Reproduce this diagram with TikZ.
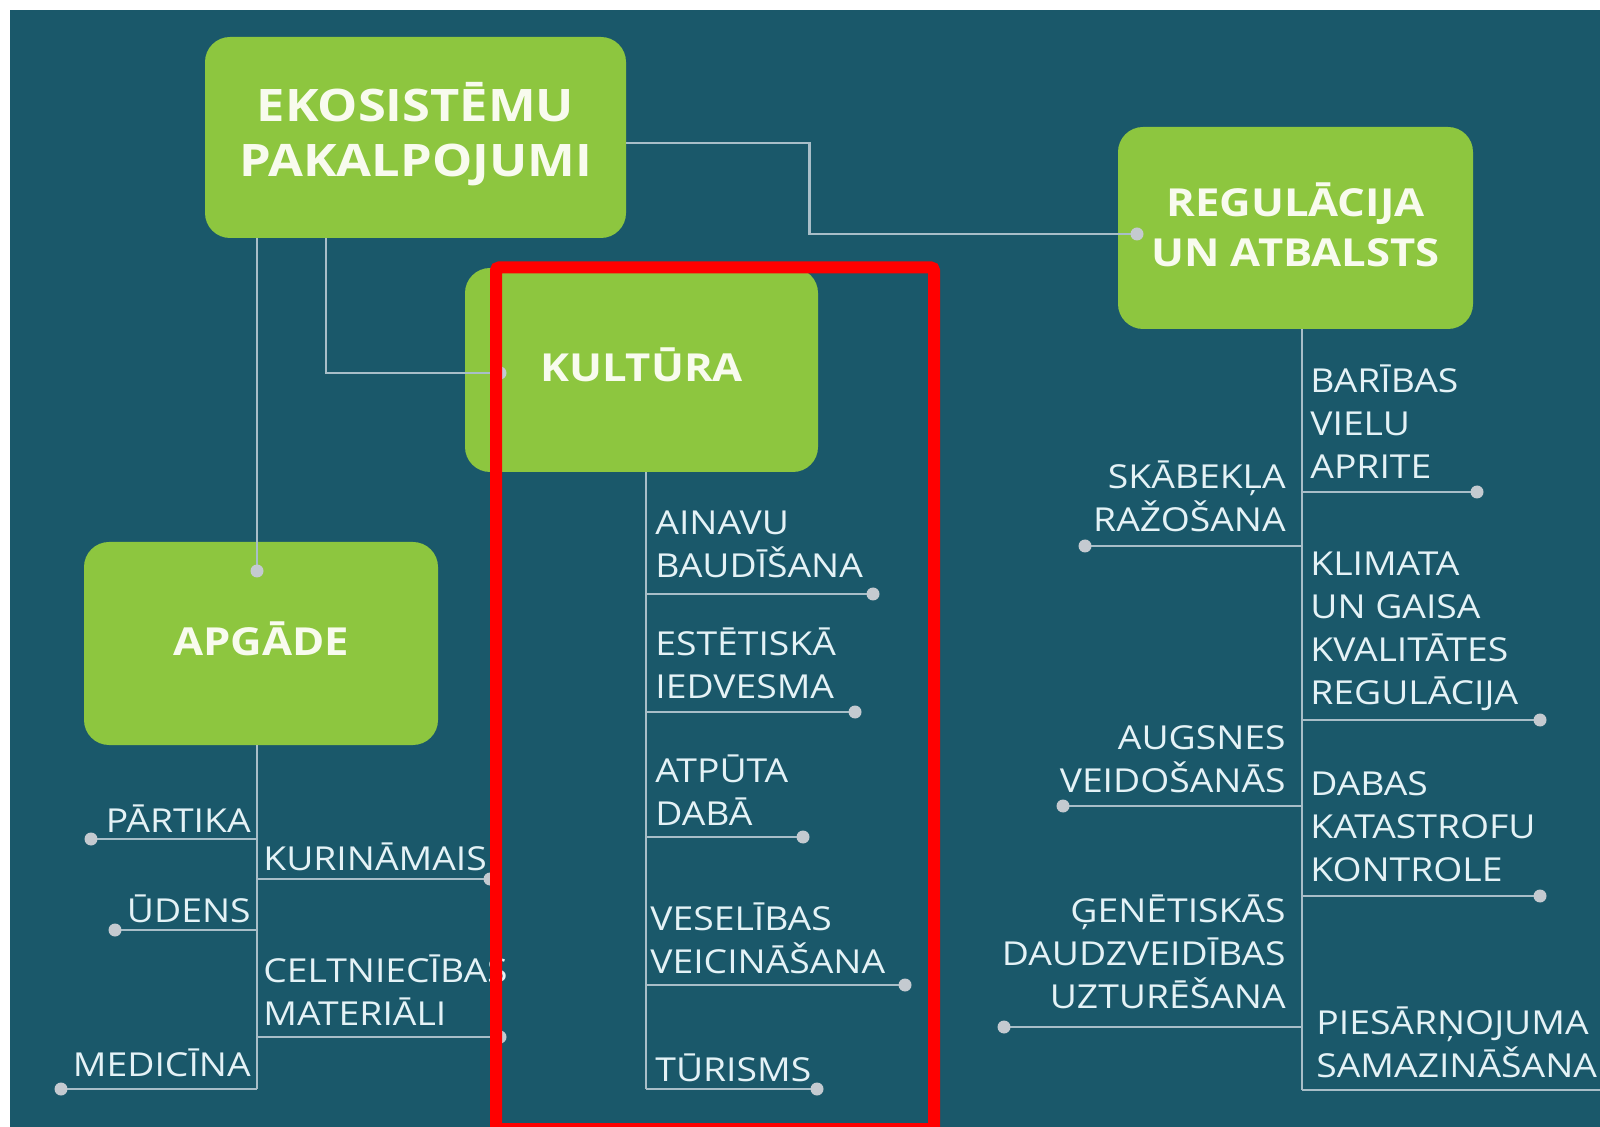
\documentclass[tikz,border=0pt]{standalone}
\usepackage{fontspec}
\setmainfont{Open Sans}[FakeStretch=1.13]
\usetikzlibrary{calc}

\definecolor{bgteal}{RGB}{26,88,106}
\definecolor{leaf}{RGB}{141,198,63}
\definecolor{wire}{RGB}{168,190,200}
\definecolor{dotgrey}{RGB}{196,202,208}
\definecolor{ink}{RGB}{228,242,246}
\definecolor{boxink}{RGB}{248,251,238}

\tikzset{
  topic/.style={fill=leaf, rounded corners=12.5pt, inner sep=0pt, minimum width=177pt, minimum height=101pt},
  title/.style={text=boxink, align=center, inner sep=0pt, font=\bfseries\fontsize{19.3}{25}\selectfont},
  item/.style={inner sep=0pt, text=ink, align=left, font=\fontsize{16.5}{21.5}\selectfont},
  link/.style={draw=wire, line width=1.25pt},
  knob/.style={fill=dotgrey}
}

\begin{document}
\begin{tikzpicture}[x=0.5pt, y=-0.5pt]
\useasboundingbox (0,0) rectangle (1600,1127);
\clip (0,0) rectangle (1600,1127);
\fill[bgteal] (10,10) rectangle (1600,1127);

\node[topic, minimum width=210.5pt, minimum height=100.5pt] (eko) at (415.5,137.5) {};
\node[topic, minimum width=176.5pt, minimum height=102pt] (kult) at (641.5,370) {};
\node[topic, minimum width=177.5pt] (reg) at (1295.5,228) {};
\node[topic, minimum height=101.5pt] (apg) at (261,643.5) {};

\node[title, font=\bfseries\fontsize{22.4}{27.5}\selectfont] (eko-t) at (415.5,134.5) {EKOSISTĒMU\\PAKALPOJUMI};
\node[title] (kult-t) at (641.5,365) {KULTŪRA};
\node[title] (reg-t) at (1295.5,225) {REGULĀCIJA\\UN ATBALSTS};
\node[title] (apg-t) at (261,638.5) {APGĀDE};

% ends of the three trunks
\coordinate (kultend) at (646,1089);
\coordinate (apgend) at (257,1089);
\coordinate (regend) at (1302,1090);

\coordinate (regdot) at (1137,234);
\coordinate (kultdot) at (500,373);
\coordinate (apgdot) at (257,571);

\draw[link] ([yshift=-2.75pt]eko.east) -- ++(183,0) |- (regdot);
\draw[link] ([xshift=-44.75pt]eko.south) |- (kultdot);
\draw[link] ([xshift=-79.25pt]eko.south) -- (apgdot);

\draw[link] (kult.south -| kultend) -- (kultend);
\draw[link] (apg.south -| apgend) -- (apgend);
\draw[link] (reg.south -| regend) -- (regend);

\foreach \d/\x/\y in {ainavu/873/594, estet/855/712, atputa/803/837, veseli/905/985, turisms/817/1089}
  \coordinate (\d) at (\x,\y);
\foreach \d/\x/\y in {partika/91/839, udens/115/930, medicina/61/1089, kurin/490/879, celtn/500/1037}
  \coordinate (\d) at (\x,\y);
\foreach \d/\x/\y in {baribas/1477/492, klimata/1540/720, dabas/1540/896, skabek/1085/546, augsnes/1063/806, genet/1004/1027}
  \coordinate (\d) at (\x,\y);
\coordinate (piesarn) at (1605,1090);

\foreach \d in {ainavu, estet, atputa, veseli, turisms}
  \draw[link] (kultend |- \d) -- (\d);
\foreach \d in {partika, udens, medicina, kurin, celtn}
  \draw[link] (apgend |- \d) -- (\d);
\foreach \d in {baribas, klimata, dabas, skabek, augsnes, genet, piesarn}
  \draw[link] (regend |- \d) -- (\d);

\foreach \d in {regdot, kultdot, apgdot, ainavu, estet, atputa, veseli, turisms,
  partika, udens, medicina, kurin, celtn, baribas, klimata, dabas, skabek, augsnes, genet}
  \fill[knob] (\d) circle (3.25pt);

\node[item, anchor=south west] (ainavu-t) at (655,578) {AINAVU\\BAUDĪŠANA};
\node[item, anchor=south west] (estet-t) at (655,699) {ESTĒTISKĀ\\IEDVESMA};
\node[item, anchor=south west] (atputa-t) at (655,826) {ATPŪTA\\DABĀ};
\node[item, anchor=south west] (veseli-t) at (650,974) {VESELĪBAS\\VEICINĀŠANA};
\node[item, anchor=south west] (turisms-t) at (655,1082) {TŪRISMS};

\node[item, anchor=south east] (partika-t) at (251,833) {PĀRTIKA};
\node[item, anchor=south east] (udens-t) at (251,923) {ŪDENS};
\node[item, anchor=south east] (medicina-t) at (251,1077) {MEDICĪNA};
\node[item, anchor=south west] (kurin-t) at (263,871) {KURINĀMAIS};
\node[item, anchor=south west] (celtn-t) at (263,1026) {CELTNIECĪBAS\\MATERIĀLI};

\node[item, anchor=south west] (baribas-t) at (1310,479) {BARĪBAS\\VIELU\\APRITE};
\node[item, anchor=south west] (klimata-t) at (1310,711) {KLIMATA\\UN GAISA\\KVALITĀTES\\REGULĀCIJA};
\node[item, anchor=south west] (dabas-t) at (1310,882) {DABAS\\KATASTROFU\\KONTROLE};
\node[item, anchor=south west] (piesarn-t) at (1316,1078) {PIESĀRŅOJUMA\\SAMAZINĀŠANA};
\node[item, align=right, anchor=south east] (skabek-t) at (1286,532) {SKĀBEKĻA\\RAŽOŠANA};
\node[item, align=right, anchor=south east] (augsnes-t) at (1286,793) {AUGSNES\\VEIDOŠANĀS};
\node[item, align=right, anchor=south east] (genet-t) at (1286,1009) {ĢENĒTISKĀS\\DAUDZVEIDĪBAS\\UZTURĒŠANA};

\draw[red, line width=6pt, rounded corners=1.5pt] (496,267.5) rectangle (934,1129);
\end{tikzpicture}
\end{document}
